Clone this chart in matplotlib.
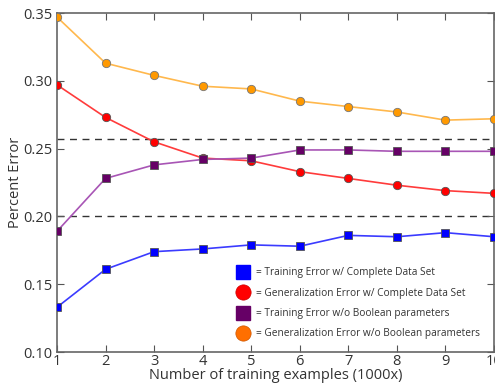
import matplotlib
matplotlib.use("Agg")
import matplotlib.pyplot as plt
from matplotlib.lines import Line2D

plt.rcParams['font.family'] = ['Open Sans', 'DejaVu Sans']

x = [1, 2, 3, 4, 5, 6, 7, 8, 9, 10]
gen_wo_bool = [0.347, 0.313, 0.304, 0.296, 0.294, 0.285, 0.281, 0.277, 0.271, 0.272]
gen_complete = [0.297, 0.273, 0.255, 0.243, 0.241, 0.233, 0.228, 0.223, 0.219, 0.217]
train_wo_bool = [0.189, 0.228, 0.238, 0.242, 0.243, 0.249, 0.249, 0.248, 0.248, 0.248]
train_complete = [0.133, 0.161, 0.174, 0.176, 0.179, 0.178, 0.186, 0.185, 0.188, 0.185]
hlines = [0.257, 0.200]
legend_labels = ["= Training Error w/ Complete Data Set",
                 "= Generalization Error w/ Complete Data Set",
                 "= Training Error w/o Boolean parameters",
                 "= Generalization Error w/o Boolean parameters"]

fig = plt.figure(figsize=(4.95, 3.83), dpi=100)
ax = fig.add_axes([57/495, 1-352/383, (494-57)/495, (352-13)/383])

txt = '#333333'
for h in hlines:
    ax.axhline(h, color='#333333', ls=(0, (5, 4)), lw=1.0, zorder=1)

ax.plot(x, gen_wo_bool, color='#FFB84D', lw=1.2, marker='o', ms=6,
        mfc='#FF9900', mec='#777777', mew=0.6, zorder=3)
ax.plot(x, gen_complete, color='#FF3B3B', lw=1.2, marker='o', ms=6,
        mfc='#FF0000', mec='#555555', mew=0.6, zorder=3)
ax.plot(x, train_wo_bool, color='#A855B5', lw=1.2, marker='s', ms=6,
        mfc='#660066', mec='#555555', mew=0.6, zorder=3)
ax.plot(x, train_complete, color='#3B3BFF', lw=1.2, marker='s', ms=5.5,
        mfc='#0000FF', mec='#555555', mew=0.6, zorder=3)

ax.set_xlim(1, 10)
ax.set_ylim(0.10, 0.35)
ax.set_xticks(x)
ax.set_yticks([0.10, 0.15, 0.20, 0.25, 0.30, 0.35])
ax.set_yticklabels(['0.10', '0.15', '0.20', '0.25', '0.30', '0.35'])
ax.tick_params(direction='in', top=True, right=True, length=5, width=0.8,
               colors='#555555', labelcolor=txt, labelsize=10.5)
ax.tick_params(axis='x', pad=1.5)
for s in ax.spines.values():
    s.set_color('#666666')
    s.set_linewidth(1.2)

ax.set_xlabel('Number of training examples (1000x)', color=txt, fontsize=10.5, labelpad=-1)
ax.set_ylabel('Percent Error', color=txt, fontsize=10.5, labelpad=0)

handles = [
    Line2D([], [], ls='none', marker='s', ms=10, mfc='#0000FF', mec='#0000FF'),
    Line2D([], [], ls='none', marker='o', ms=11, mfc='#FF0000', mec='#CC0000', mew=0.5),
    Line2D([], [], ls='none', marker='s', ms=10, mfc='#660066', mec='#660066'),
    Line2D([], [], ls='none', marker='o', ms=11, mfc='#FF6F00', mec='#CC5500', mew=0.5),
]
leg = ax.legend(handles, legend_labels, loc='lower left', bbox_to_anchor=(0.405, 0.025),
                frameon=False, fontsize=7.3, handlelength=1.0, handletextpad=0.8,
                labelspacing=0.92, borderaxespad=0)
for t in leg.get_texts():
    t.set_color(txt)

fig.savefig('out.png', dpi=100)
